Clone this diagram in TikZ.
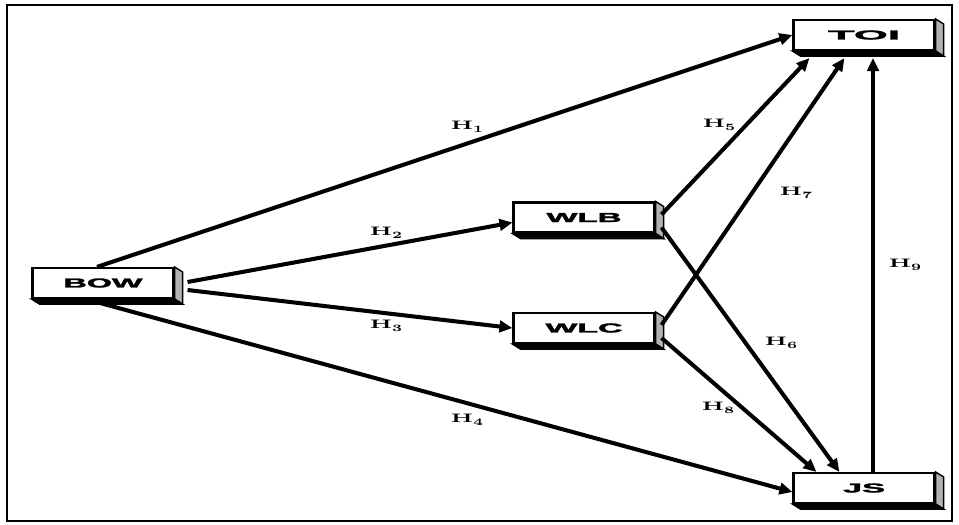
\documentclass[tikz,border=0pt]{standalone}
\usepackage{fontspec}
\setsansfont{Liberation Sans}
\newfontfamily\heavyfont[BoldFeatures={FakeBold=2}]{Liberation Sans}
\usepackage{graphicx}
\usetikzlibrary{arrows.meta,calc}

\begin{document}
\begin{tikzpicture}[x=0.2mm,y=-0.2mm]
    \tikzstyle{frame} = [
      draw=black,
      line width=1.2pt,
    ]
    \tikzstyle{construct} = [
      anchor=center,
      draw=black,
      fill=white,
      line width=1.2pt,
      inner sep=0pt,
      minimum width=28.2mm,
      minimum height=6mm,
    ]
    \tikzstyle{sideface} = [
      draw=black,
      line width=0.8pt,
      fill=black!30,
    ]
    \tikzstyle{bottomface} = [
      draw=black,
      line width=0.8pt,
      fill=black,
    ]
    \tikzstyle{arrow} = [
      line width=2.3pt,
      -{Triangle[length=2.6mm,width=2.3mm]},
      draw=black,
    ]
    \tikzstyle{hyp} = [
      anchor=center,
      inner sep=0pt,
    ]

    \newcommand{\constructname}[2]{\resizebox{#1}{1.8mm}{\heavyfont\bfseries #2}}
    \newcommand{\hypname}[1]{{\fontsize{7}{8}\selectfont\scalebox{1.8}[1]{\bfseries H}\raisebox{-0.6mm}{\fontsize{5.5}{6}\selectfont\scalebox{1.5}[1]{\bfseries #1}}}}

    \useasboundingbox (0,0) rectangle (959,524);

    % frame
    {
      \draw[frame] (7,5) rectangle (952,521);
    }

    % constructs
    {
      \node[construct] (bow) at (103,283)   {\constructname{15.8mm}{BOW}};
      \node[construct] (wlb) at (584,217.5) {\constructname{15mm}{WLB}};
      \node[construct] (wlc) at (584,328)   {\constructname{15.4mm}{WLC}};
      \node[construct] (toi) at (864,35)    {\constructname{14.4mm}{TOI}};
      \node[construct] (js)  at (864,488)   {\constructname{8.4mm}{JS}};
    }

    % depth of the boxes
    \foreach \n in {bow,wlb,wlc,toi,js} {
      \draw[sideface] (\n.north east) -- ++(8,5) -- ($(\n.south east)+(8,5)$) -- (\n.south east) -- cycle;
      \draw[bottomface] (\n.south west) -- ++(8,5) -- ($(\n.south east)+(8,5)$) -- (\n.south east) -- cycle;
    }

    % direct paths from BOW
    {
      \draw[arrow] ($(bow.north)+(-6,0)$) -- (toi.west);
      \draw[arrow] ($(bow.east)+(13,-1)$) -- ($(wlb.west)+(0,5)$);
      \draw[arrow] ($(bow.east)+(13,7)$) -- (wlc.west);
      \draw[arrow] ($(bow.south)+(-10,2)$) -- ($(js.west)+(0,4)$);
    }

    % paths from WLB and WLC
    {
      \draw[arrow] ($(wlb.east)+(6,-3)$) -- ($(toi.south west)+(17,7)$);
      \draw[arrow] ($(wlb.east)+(6,10)$) -- ($(js.north west)+(47,0)$);
      \draw[arrow] ($(wlc.east)+(6,-3)$) -- ($(toi.south west)+(52,7)$);
      \draw[arrow] ($(wlc.east)+(6,10)$) -- ($(js.north west)+(24,0)$);
    }

    % JS to TOI
    {
      \draw[arrow] ($(js.north)+(9,0)$) -- ($(toi.south)+(9,7)$);
    }

    % hypotheses
    {
      \node[hyp] (h1) at (467,127) {\hypname{1}};
      \node[hyp] (h2) at (386,233) {\hypname{2}};
      \node[hyp] (h3) at (386,326) {\hypname{3}};
      \node[hyp] (h4) at (467,420) {\hypname{4}};
      \node[hyp] (h5) at (719,125) {\hypname{5}};
      \node[hyp] (h6) at (781,343) {\hypname{6}};
      \node[hyp] (h7) at (796,193) {\hypname{7}};
      \node[hyp] (h8) at (718,408) {\hypname{8}};
      \node[hyp] (h9) at (905,265) {\hypname{9}};
    }
\end{tikzpicture}
\end{document}
